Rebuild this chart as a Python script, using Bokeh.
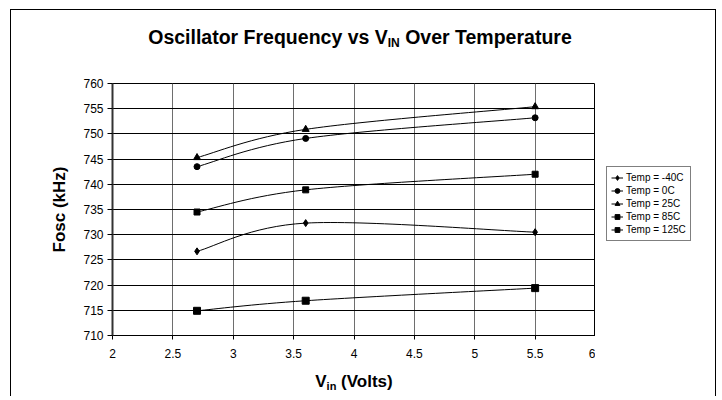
from bokeh.plotting import figure
from bokeh.layouts import column, row
from bokeh.models import (Legend, LegendItem, FixedTicker, ColumnDataSource, Range1d, Div)
from bokeh.embed import file_html
from bokeh.resources import INLINE

# ---------------- data ----------------
vin = [2.7, 3.6, 5.5]
temp_labels = ["Temp = -40C", "Temp = 0C", "Temp = 25C", "Temp = 85C", "Temp = 125C"]
fosc_m40 = [726.7, 732.3, 730.5]
fosc_0 = [743.5, 749.1, 753.2]
fosc_25 = [745.3, 750.9, 755.4]
fosc_85 = [734.5, 738.9, 742.0]
fosc_125 = [714.9, 716.9, 719.4]
x_ticks = [2, 2.5, 3, 3.5, 4, 4.5, 5, 5.5, 6]
x_tick_labels = ["2", "2.5", "3", "3.5", "4", "4.5", "5", "5.5", "6"]
y_ticks = [710, 715, 720, 725, 730, 735, 740, 745, 750, 755, 760]
title_main, title_sub, title_rest = "Oscillator Frequency vs V", "IN", " Over Temperature"
xlab_main, xlab_sub, xlab_rest = "V", "in", " (Volts)"
ylab = "Fosc (kHz)"

FONT = "Liberation Sans"


def smooth_segments(xs, ys, t=1.0 / 6.0):
    """Bezier control points (Excel-like smoothed line) through the measured points."""
    pts = list(zip(xs, ys))
    n = len(pts)
    d = dict(x0=[], y0=[], x1=[], y1=[], cx0=[], cy0=[], cx1=[], cy1=[])
    for i in range(n - 1):
        p0 = pts[i - 1] if i > 0 else pts[i]
        p1 = pts[i]
        p2 = pts[i + 1]
        p3 = pts[i + 2] if i + 2 < n else pts[i + 1]
        d["x0"].append(p1[0]); d["y0"].append(p1[1])
        d["x1"].append(p2[0]); d["y1"].append(p2[1])
        d["cx0"].append(p1[0] + (p2[0] - p0[0]) * t)
        d["cy0"].append(p1[1] + (p2[1] - p0[1]) * t)
        d["cx1"].append(p2[0] - (p3[0] - p1[0]) * t)
        d["cy1"].append(p2[1] - (p3[1] - p1[1]) * t)
    return ColumnDataSource(d)


# ---------------- main figure ----------------
p = figure(width=584, height=302, output_backend="svg", toolbar_location=None,
           x_range=Range1d(2, 6), y_range=Range1d(710, 760),
           min_border_left=101, min_border_right=0, min_border_top=23,
           min_border_bottom=27, margin=0)
p.background_fill_color = "white"
p.border_fill_color = "white"
p.outline_line_color = "black"
p.outline_line_width = 1

p.xaxis.ticker = FixedTicker(ticks=x_ticks)
p.xaxis.major_label_overrides = {t: l for t, l in zip(x_ticks, x_tick_labels)}
p.yaxis.ticker = FixedTicker(ticks=y_ticks)
for ax in (p.xaxis, p.yaxis):
    ax.axis_line_color = "black"
    ax.axis_line_width = 1
    ax.major_tick_line_color = "black"
    ax.major_tick_in = 0
    ax.minor_tick_line_color = None
    ax.major_label_text_font = FONT
    ax.major_label_text_font_size = "12px"
    ax.major_label_text_color = "black"
p.yaxis.axis_line_width = 2
p.yaxis.axis_line_color = "#333333"
p.yaxis.major_tick_out = 5
p.xaxis.major_tick_out = 4
p.yaxis.major_label_standoff = 4
p.xaxis.major_label_standoff = 9

p.yaxis.axis_label = ylab
p.yaxis.axis_label_text_font = FONT
p.yaxis.axis_label_text_font_size = "17px"
p.yaxis.axis_label_text_font_style = "bold"
p.yaxis.axis_label_text_color = "black"
p.yaxis.axis_label_standoff = 11

p.ygrid.grid_line_color = "black"
p.ygrid.grid_line_width = 1
p.xgrid.grid_line_color = "#6e6e6e"
p.xgrid.grid_line_width = 1

series = [
    (fosc_m40, "diamond", 7),
    (fosc_0, "circle", 6),
    (fosc_25, "triangle", 7),
    (fosc_85, "square", 6),
    (fosc_125, "square", 7),
]

# ---------------- legend panel (separate small canvas to the right) ----------------
# Its ranges do not contain the series, so only the legend swatches are visible there.
lg = figure(width=120, height=302, output_backend="svg", toolbar_location=None,
            x_range=Range1d(0, 1), y_range=Range1d(0, 1),
            x_axis_location=None, y_axis_location=None,
            min_border_left=0, min_border_right=0, min_border_top=0,
            min_border_bottom=0, margin=0)
lg.xgrid.visible = False
lg.ygrid.visible = False
lg.outline_line_color = None
lg.background_fill_color = "white"
lg.border_fill_color = "white"

items = []
for (vals, marker, size), lab in zip(series, temp_labels):
    src = smooth_segments(vin, vals)
    p.bezier(x0="x0", y0="y0", x1="x1", y1="y1", cx0="cx0", cy0="cy0",
             cx1="cx1", cy1="cy1", source=src, line_color="black", line_width=1)
    p.scatter(vin, vals, marker=marker, size=size, fill_color="black",
              line_color="black")
    lr = lg.line(vin, vals, line_color="black", line_width=1)
    mr = lg.scatter(vin, vals, marker=marker, size=size, fill_color="black",
                    line_color="black")
    items.append(LegendItem(label=lab, renderers=[lr, mr]))

legend = Legend(items=items, location=(11, 94), orientation="vertical")
legend.label_text_font = FONT
legend.label_text_font_size = "10px"
legend.label_text_color = "black"
legend.glyph_width = 12
legend.glyph_height = 13
legend.label_height = 13
legend.label_standoff = 3
legend.spacing = 0
legend.padding = 4
legend.margin = 0
legend.border_line_color = "black"
legend.border_line_width = 1
legend.background_fill_color = "white"
legend.background_fill_alpha = 1
lg.add_layout(legend)

# ---------------- title and x-axis title (with subscripts) ----------------
title_div = Div(
    text=(f'<div style="box-sizing:border-box;width:704px;padding:16px 6px 0 0;'
          f'font-family:\'{FONT}\';font-weight:bold;font-size:19.5px;line-height:22px;'
          f'text-align:center;color:black;white-space:nowrap;">'
          f'{title_main}<span style="font-size:12px;vertical-align:-3px;">{title_sub}</span>'
          f'{title_rest}</div>'),
    width=704, height=50, margin=0)

xlab_div = Div(
    text=(f'<div style="box-sizing:border-box;width:704px;padding:10px 18px 0 0;'
          f'font-family:\'{FONT}\';font-weight:bold;font-size:17px;line-height:20px;'
          f'text-align:center;color:black;white-space:nowrap;">'
          f'{xlab_main}<span style="font-size:11px;vertical-align:-3px;">{xlab_sub}</span>'
          f'{xlab_rest}</div>'),
    width=704, height=34, margin=0)

layout = column(title_div, row(p, lg, spacing=0, margin=0), xlab_div, spacing=0,
                margin=(9, 0, 0, 10),
                styles={"border-left": "1px solid black", "border-top": "1px solid black",
                        "border-right": "1px solid black", "background": "white"})

open("out.html", "w").write(file_html(layout, INLINE))
